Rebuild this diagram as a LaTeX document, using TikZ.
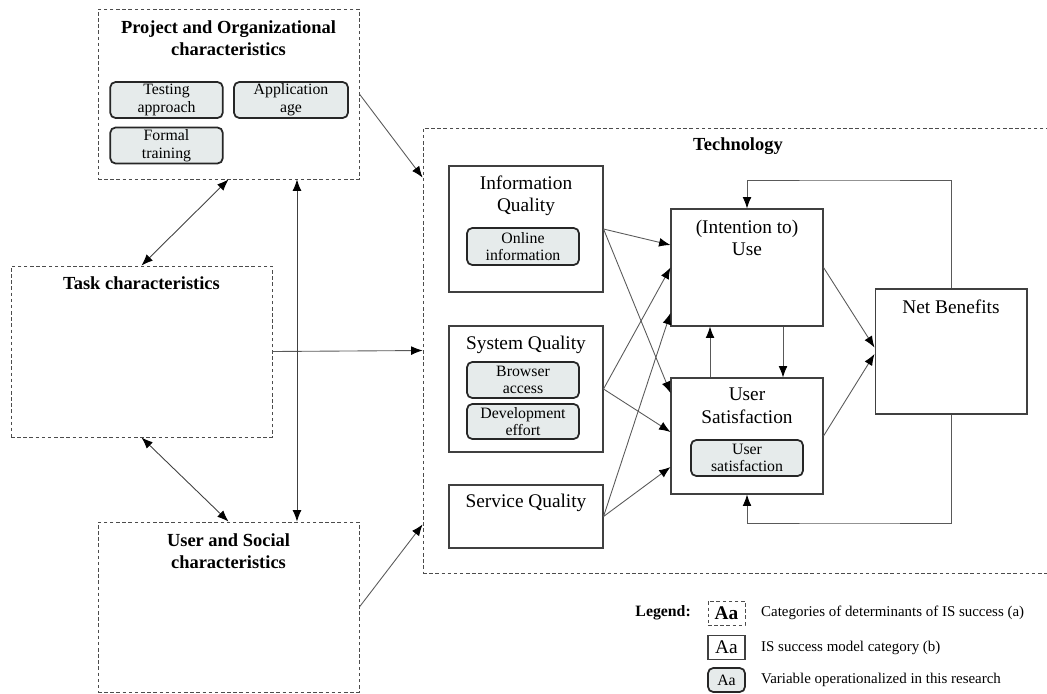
\documentclass[tikz,border=0pt]{standalone}
\usepackage{fontspec}
\setmainfont{Liberation Serif}
\usetikzlibrary{arrows.meta}
\definecolor{varfill}{RGB}{230,235,235}

\begin{document}
\begin{tikzpicture}[x=0.02cm, y=-0.02cm]
\tikzset{%
	cat/.style = {draw=black!70, dash pattern=on 2pt off 1.5pt, line width=.5pt, rectangle},
	ism/.style = {draw=black!75, line width=.6pt, rectangle},
	var/.style = {draw=black!85, line width=1pt, rounded corners=3pt, fill=varfill, minimum width=2.25cm, minimum height=.72cm, inner sep=1pt, align=center, font=\fontsize{9}{10}\selectfont},
	ttl/.style = {align=center, font=\fontsize{10.5}{12.6}\selectfont\bfseries},
	sub/.style = {align=center, font=\fontsize{11}{12.8}\selectfont},
	leg/.style = {anchor=west, font=\fontsize{8.5}{10}\selectfont},
	con/.style = {-{Latex[length=6.5pt,width=5pt,color=black]}, draw=black!65, line width=.5pt},
	bicon/.style = {{Latex[length=6.5pt,width=5pt,color=black]}-{Latex[length=6.5pt,width=5pt,color=black]}, draw=black!75, line width=.5pt}
}
\useasboundingbox (0,0) rectangle (1047,693);

% Determinants

\draw node at (228.5,94) [cat, minimum width=5.22cm, minimum height=3.4cm] (proj) {};
\draw node at (228.5,38) [ttl] (projt) {Project and Organizational\\characteristics};
\draw node at (166.5,100) [var] (testing) {Testing\\approach};
\draw node at (291,100) [var, minimum width=2.28cm] (appage) {Application\\age};
\draw node at (166.5,145.5) [var] (training) {Formal\\training};

\draw node at (141.5,351.5) [cat, minimum width=5.22cm, minimum height=3.42cm] (task) {};
\draw node at (141.5,283) [ttl] (taskt) {Task characteristics};

\draw node at (228.5,607) [cat, minimum width=5.22cm, minimum height=3.4cm] (user) {};
\draw node at (228.5,551) [ttl] (usert) {User and Social\\characteristics};

% Technology

\draw node at (737.5,350.5) [cat, minimum width=12.58cm, minimum height=8.9cm] (tech) {};
\draw node at (738,146) [ttl] (techt) {Technology};

\draw node at (526,229) [ism, minimum width=3.08cm, minimum height=2.52cm] (iq) {};
\draw node at (526,196) [sub] (iqt) {Information\\Quality};
\draw node at (523,246.5) [var, minimum width=2.24cm, minimum height=.74cm] (online) {Online\\information};

\draw node at (526,389) [ism, minimum width=3.08cm, minimum height=2.52cm] (sq) {};
\draw node at (526,345) [sub] (sqt) {System Quality};
\draw node at (523,380) [var, minimum width=2.24cm] (browser) {Browser\\access};
\draw node at (523,421.5) [var, minimum width=2.24cm, minimum height=.7cm] (devel) {Development\\effort};

\draw node at (526,516.5) [ism, minimum width=3.08cm, minimum height=1.26cm] (serq) {};
\draw node at (526,503) [sub] (serqt) {Service Quality};

\draw node at (747,267.5) [ism, minimum width=3.04cm, minimum height=2.34cm] (use) {};
\draw node at (747,238) [sub] (uset) {(Intention to)\\Use};

\draw node at (747,436) [ism, minimum width=3.04cm, minimum height=2.32cm] (us) {};
\draw node at (747,406) [sub] (ust) {User\\Satisfaction};
\draw node at (747,458) [var, minimum width=2.24cm] (usvar) {User\\satisfaction};

\draw node at (951,351.5) [ism, minimum width=3.04cm, minimum height=2.5cm] (nb) {};
\draw node at (951,307) [sub] (nbt) {Net Benefits};

% Legend

\draw node at (697,613) [anchor=east, font=\fontsize{9}{11}\selectfont\bfseries] (legt) {Legend:};
\draw node at (726.5,613) [cat, minimum width=.74cm, minimum height=.48cm, inner sep=0pt, font=\fontsize{11}{12}\selectfont\bfseries] (leg1) {Aa};
\draw node at (726.5,647.5) [ism, minimum width=.74cm, minimum height=.48cm, inner sep=0pt, font=\fontsize{11}{12}\selectfont] (leg2) {Aa};
\draw node at (726.5,680) [var, minimum width=.74cm, minimum height=.48cm, inner sep=0pt] (leg3) {Aa};
\draw node at (755,613) [leg] (leg1t) {Categories of determinants of IS success (a)};
\draw node at (755,647.5) [leg] (leg2t) {IS success model category (b)};
\draw node at (755,680) [leg] (leg3t) {Variable operationalized in this research};

% Connectors

\draw[con] (proj.east) -- ([yshift=-1cm]tech.north west);
\draw[con] (task.east) -- (tech.west);
\draw[con] (user.east) -- ([yshift=.98cm]tech.south west);
\draw[bicon] (proj.south) -- (task.north);
\draw[bicon] (task.south) -- (user.north);
\draw[bicon] ([xshift=1.37cm]proj.south) -- ([xshift=1.37cm]user.north);

\draw[con] (iq.east) -- ([yshift=.45cm]use.west);
\draw[con] (iq.east) -- ([yshift=.86cm]us.west);
\draw[con] (sq.east) -- (use.west);
\draw[con] (sq.east) -- ([yshift=.08cm]us.west);
\draw[con] (serq.east) -- ([yshift=-.91cm]use.west);
\draw[con] (serq.east) -- ([yshift=-.62cm]us.west);
\draw[con] ([xshift=-.74cm]us.north) -- ([xshift=-.74cm]use.south);
\draw[con] ([xshift=.72cm]use.south) -- ([xshift=.72cm]us.north);
\draw[con] (use.east) -- ([yshift=.08cm]nb.west);
\draw[con] (us.east) -- ([yshift=-.05cm]nb.west);

\coordinate (fbtop) at (850,180);
\coordinate (fbbot) at (850,523);
\draw[con] (nb.north) |- (fbtop) -| (use.north);
\draw[con] (nb.south) |- (fbbot) -| (us.south);

\end{tikzpicture}
\end{document}
